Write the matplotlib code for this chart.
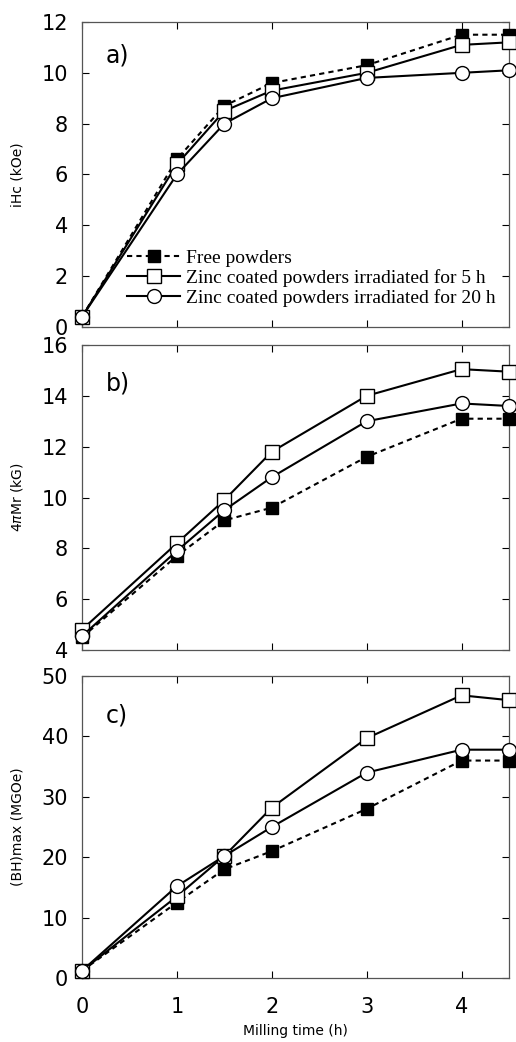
import numpy as np
import matplotlib.pyplot as plt

# milling time (h)
t = [0, 1, 1.5, 2, 3, 4, 4.5]

# a) iHc (kOe)
ihc_free = [0.4, 6.6, 8.7, 9.6, 10.3, 11.5, 11.5]
ihc_zn5 = [0.4, 6.4, 8.5, 9.3, 10.0, 11.1, 11.2]
ihc_zn20 = [0.4, 6.0, 8.0, 9.0, 9.8, 10.0, 10.1]

# b) 4piMr (kG)
mr_free = [4.5, 7.7, 9.1, 9.6, 11.6, 13.1, 13.1]
mr_zn5 = [4.8, 8.2, 9.9, 11.8, 14.0, 15.05, 14.95]
mr_zn20 = [4.55, 7.9, 9.5, 10.8, 13.0, 13.7, 13.6]

# c) (BH)max (MGOe)
bh_free = [1.2, 12.5, 18.0, 21.0, 28.0, 36.0, 36.0]
bh_zn5 = [1.2, 13.5, 20.2, 28.2, 39.7, 46.8, 46.0]
bh_zn20 = [1.2, 15.2, 20.2, 25.0, 34.0, 37.8, 37.8]

labels = ['Free powders',
          'Zinc coated powders irradiated for 5 h',
          'Zinc coated powders irradiated for 20 h']

fig = plt.figure(figsize=(5.16, 10.42), dpi=100)
L, W = 82/516, 427/516
boxes = [(22, 327), (345, 650), (676, 978)]
panels = [
    ((ihc_free, ihc_zn5, ihc_zn20), (0, 12), np.arange(0, 13, 2), 'iHc (kOe)', 'a)', 10.7),
    ((mr_free, mr_zn5, mr_zn20), (4, 16), np.arange(4, 17, 2), r'4$\pi$Mr (kG)', 'b)', 14.5),
    ((bh_free, bh_zn5, bh_zn20), (0, 50), np.arange(0, 51, 10), '(BH)max (MGOe)', 'c)', 43.5),
]

for i, ((yf, y5, y20), ylim, yt, ylab, tag, tagy) in enumerate(panels):
    top, bot = boxes[i]
    ax = fig.add_axes([L, 1 - bot/1042, W, (bot - top)/1042])
    ax.plot(t, yf, 'k--', lw=1.5, dashes=(2.5, 2), marker='s', ms=9,
            mfc='black', mec='black', mew=1, label=labels[0], zorder=3, clip_on=False)
    ax.plot(t, y5, 'k-', lw=1.5, marker='s', ms=9.5,
            mfc='white', mec='black', mew=1, label=labels[1], zorder=4, clip_on=False)
    ax.plot(t, y20, 'k-', lw=1.5, marker='o', ms=10,
            mfc='white', mec='black', mew=1, label=labels[2], zorder=5, clip_on=False)
    ax.set_xlim(0, 4.5)
    ax.set_ylim(*ylim)
    ax.set_xticks([0, 1, 2, 3, 4])
    ax.set_yticks(yt)
    ax.tick_params(direction='in', top=True, right=True, length=5,
                   labelsize=15)
    ax.tick_params(axis='y', pad=10)
    ax.tick_params(axis='x', pad=14)
    for s in ax.spines.values():
        s.set_linewidth(0.9)
        s.set_color('#555555')
    ax.set_ylabel(ylab, fontsize=10, labelpad=12)
    ax.text(0.25, tagy, tag, fontsize=17, va='center')
    if i < 2:
        ax.tick_params(labelbottom=False)
    else:
        ax.set_xlabel('Milling time (h)', fontsize=10, labelpad=5)
    if i == 0:
        ax.legend(loc='lower right', bbox_to_anchor=(1.0, 0.02), frameon=False,
                  prop={'family': 'Liberation Serif', 'size': 14},
                  handlelength=2.7, handletextpad=0.3, labelspacing=0.12,
                  borderpad=0.2)

fig.savefig('out.png', dpi=100)
